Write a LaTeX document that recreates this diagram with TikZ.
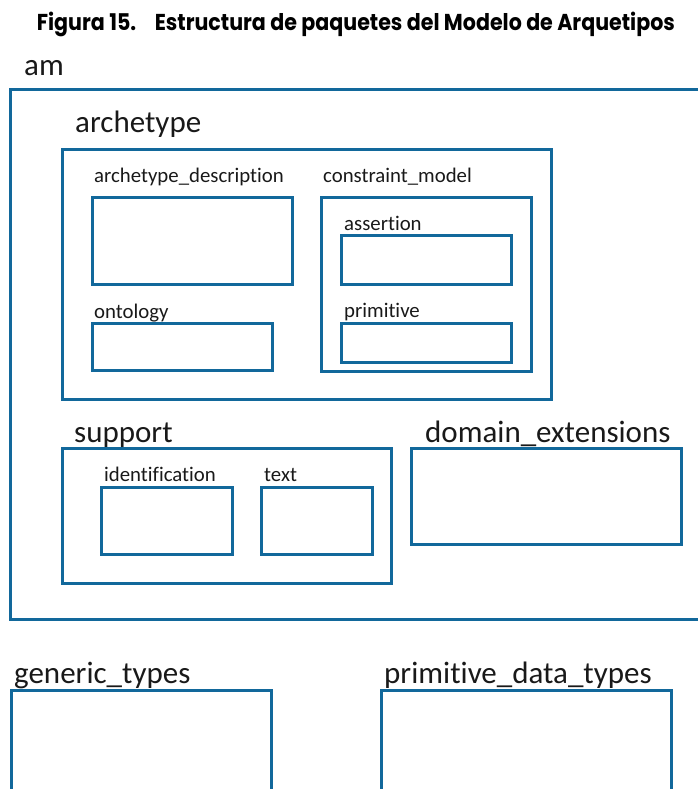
\documentclass[tikz,border=0pt]{standalone}
\usepackage{fontspec}
\setmainfont{Carlito}[Ligatures=NoCommon]
\newfontfamily\titlefont{Poppins}
\usepackage{graphicx}
\definecolor{pkgblue}{RGB}{18,104,155}
\newsavebox\mytitlebox
\tikzset{
  pkg/.style={draw=pkgblue, line width=3pt, fill=none},
  biglbl/.style={anchor=base west, inner sep=0pt, font=\fontsize{31}{36}\selectfont, text=black!90},
  smalllbl/.style={anchor=base west, inner sep=0pt, font=\fontsize{20.8}{24}\selectfont, text=black!90},
}
\begin{document}
\sbox\mytitlebox{\titlefont\fontsize{23}{28}\selectfont\bfseries Figura 15.\hspace{0.9em}Estructura de paquetes del Modelo de Arquetipos}%
\begin{tikzpicture}[x=1pt,y=-1pt]
\useasboundingbox (0,0) rectangle (698,789);
\clip (0,0) rectangle (698,789);
% title
\node[anchor=base west, inner sep=0pt, text=black!85] (title) at (36.7,31)
  {\resizebox{638pt}{\ht\mytitlebox}{\usebox\mytitlebox}};
% boxes
\draw[pkg] (10,90) rectangle (720,619) coordinate (amBR);
\coordinate (amTL) at (10,90);
\node[pkg, anchor=north west, minimum width=489pt, minimum height=250pt, inner sep=0pt] (archetype) at (61,148) {};
\node[pkg, anchor=north west, minimum width=200pt, minimum height=87pt, inner sep=0pt] (archdesc) at (91,196) {};
\node[pkg, anchor=north west, minimum width=210pt, minimum height=174pt, inner sep=0pt] (constraint) at (320,196) {};
\node[pkg, anchor=north west, minimum width=170pt, minimum height=49pt, inner sep=0pt] (assertion) at (340,234) {};
\node[pkg, anchor=north west, minimum width=180pt, minimum height=47pt, inner sep=0pt] (ontology) at (91,322) {};
\node[pkg, anchor=north west, minimum width=170pt, minimum height=39pt, inner sep=0pt] (primitive) at (340,322) {};
\node[pkg, anchor=north west, minimum width=329pt, minimum height=135pt, inner sep=0pt] (support) at (61,446.5) {};
\node[pkg, anchor=north west, minimum width=131pt, minimum height=67pt, inner sep=0pt] (ident) at (100,486) {};
\node[pkg, anchor=north west, minimum width=111pt, minimum height=67pt, inner sep=0pt] (textbox) at (260,486) {};
\node[pkg, anchor=north west, minimum width=270pt, minimum height=96.5pt, inner sep=0pt] (domain) at (410,446.5) {};
\node[pkg, anchor=north west, minimum width=260pt, minimum height=130pt, inner sep=0pt] (generic) at (10,688.5) {};
\node[pkg, anchor=north west, minimum width=290pt, minimum height=130pt, inner sep=0pt] (primdata) at (380,688.5) {};
% labels
\node[biglbl] (lam) at (24,76) {am};
\node[biglbl] (larch) at (75,132.7) {archetype};
\node[smalllbl] (larchdesc) at (94,182.7) {archetype\_description};
\node[smalllbl] (lconstraint) at (323,182.7) {constraint\_model};
\node[smalllbl] (lassertion) at (344,230.7) {assertion};
\node[smalllbl] (lontology) at (94,318) {ontology};
\node[smalllbl] (lprimitive) at (344,317) {primitive};
\node[biglbl] (lsupport) at (74,442.7) {support};
\node[smalllbl] (lident) at (104,481.7) {identification};
\node[smalllbl] (ltext) at (264,481.7) {text};
\node[biglbl] (ldomain) at (425,442.3) {domain\_extensions};
\node[biglbl] (lgeneric) at (14,683) {generic\_types};
\node[biglbl] (lprimdata) at (384,683) {primitive\_data\_types};
\end{tikzpicture}
\end{document}
